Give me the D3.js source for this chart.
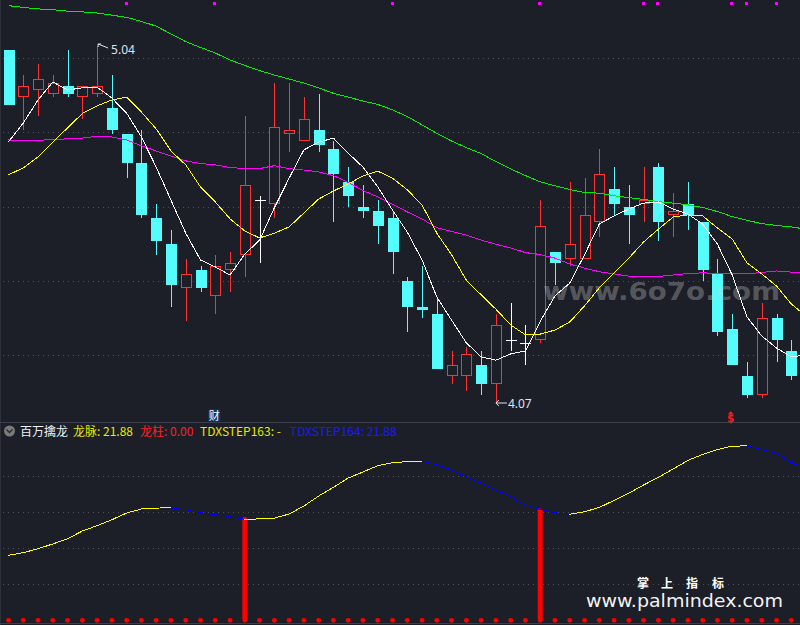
<!DOCTYPE html>
<html><head><meta charset="utf-8">
<script src="https://cdn.jsdelivr.net/npm/d3@7"></script>
<style>
html,body{margin:0;padding:0;background:#1c1f28;overflow:hidden}
svg{display:block}
</style></head><body>
<svg id="c" width="800" height="625"></svg>
<script>
// ---- DATA ----
const open  = [5.03,4.90,4.92,4.91,4.93,4.90,4.91,4.87,4.80,4.72, 4.57,4.50,4.38,4.43,4.36,4.43,4.47,4.62,4.61,4.80, 4.78,4.81,4.76,4.67,4.60,4.59,4.57,4.40,4.33,4.31, 4.14,4.14,4.17,4.12,4.24,4.23,4.24,4.48,4.46,4.46, 4.56,4.65,4.60,4.61,4.71,4.58,4.61,4.56,4.42,4.27, 4.14,4.09,4.30,4.21];
const high  = [5.03,4.96,4.99,4.96,5.03,4.93,5.04,4.96,4.80,4.81, 4.61,4.54,4.46,4.44,4.47,4.48,4.85,4.63,4.94,4.94, 4.90,4.91,4.78,4.71,4.66,4.62,4.59,4.41,4.44,4.35, 4.21,4.22,4.21,4.31,4.34,4.28,4.62,4.48,4.67,4.68, 4.76,4.71,4.66,4.71,4.72,4.64,4.67,4.56,4.46,4.31, 4.18,4.34,4.31,4.24];
const low   = [4.88,4.81,4.85,4.90,4.90,4.84,4.90,4.80,4.68,4.57, 4.47,4.33,4.29,4.37,4.31,4.37,4.41,4.45,4.57,4.75, 4.78,4.75,4.56,4.60,4.57,4.50,4.42,4.26,4.30,4.16, 4.12,4.10,4.09,4.07,4.21,4.17,4.23,4.39,4.44,4.46, 4.52,4.58,4.50,4.56,4.51,4.52,4.54,4.40,4.25,4.17, 4.08,4.08,4.18,4.13];
const close = [4.88,4.93,4.95,4.94,4.91,4.93,4.93,4.81,4.72,4.58, 4.51,4.39,4.42,4.38,4.44,4.45,4.66,4.62,4.82,4.81, 4.84,4.77,4.69,4.63,4.59,4.55,4.48,4.33,4.32,4.16, 4.17,4.20,4.12,4.28,4.24,4.23,4.55,4.45,4.50,4.58, 4.69,4.61,4.58,4.62,4.56,4.59,4.58,4.43,4.26,4.17, 4.09,4.30,4.24,4.14];

const ma5  = [4.779,4.830,4.893,4.942,4.920,4.926,4.928,4.898,4.857,4.792, 4.710,4.620,4.530,4.457,4.438,4.416,4.473,4.511,4.599,4.680, 4.757,4.778,4.789,4.748,4.710,4.656,4.593,4.533,4.457,4.356, 4.293,4.231,4.193,4.184,4.201,4.209,4.290,4.359,4.394,4.471, 4.555,4.577,4.596,4.612,4.615,4.596,4.582,4.555,4.500,4.416, 4.302,4.250,4.217,4.193,4.198];
const ma10 = [4.689,4.708,4.738,4.778,4.817,4.856,4.877,4.893,4.901,4.860, 4.814,4.754,4.716,4.656,4.615,4.569,4.536,4.517,4.530,4.547, 4.585,4.623,4.645,4.664,4.686,4.699,4.680,4.648,4.607,4.530, 4.471,4.402,4.362,4.323,4.280,4.253,4.255,4.266,4.288,4.332, 4.381,4.421,4.462,4.506,4.541,4.574,4.580,4.577,4.544,4.514, 4.449,4.419,4.386,4.337,4.304];
const ma20 = [4.784,4.783,4.783,4.785,4.787,4.789,4.794,4.792,4.784,4.768, 4.754,4.740,4.727,4.720,4.716,4.709,4.706,4.706,4.714,4.706, 4.702,4.697,4.687,4.668,4.646,4.629,4.609,4.588,4.569,4.545, 4.535,4.525,4.511,4.500,4.490,4.477,4.472,4.462,4.446,4.435, 4.425,4.419,4.413,4.412,4.412,4.416,4.420,4.422,4.420,4.419, 4.419,4.423,4.427,4.424,4.421];
const ma60 = [5.150,5.145,5.141,5.139,5.135,5.133,5.130,5.124,5.118,5.107, 5.094,5.073,5.052,5.036,5.021,5.002,4.987,4.973,4.961,4.950, 4.939,4.926,4.911,4.901,4.890,4.881,4.866,4.848,4.825,4.802, 4.781,4.763,4.747,4.725,4.705,4.687,4.670,4.659,4.649,4.641, 4.639,4.632,4.627,4.622,4.616,4.612,4.607,4.600,4.589,4.575, 4.565,4.556,4.551,4.547,4.541];

// 龙脉 (indicator line) and 龙柱 (pillars)
const dragon = [8.99,9.35,9.90,10.56,11.29,12.36,13.10,13.93,14.86,15.42, 15.55,15.57,15.30,14.90,14.63,14.35,13.98,14.04,14.15,14.72, 15.83,17.22,18.43,19.72,20.56,21.43,21.85,22.00,22.03,21.55, 20.83,19.90,18.99,18.06,17.13,15.97,15.38,14.90,14.68,15.04, 15.63,16.61,17.61,18.75,19.82,20.97,22.17,23.00,23.68,24.15, 24.18,23.64,23.15,21.88,20.90];
const pillar = [0,0,0,0,0,0,0,0,0,0, 0,0,0,0,0,0,14.3,0,0,0, 0,0,0,0,0,0,0,0,0,0, 0,0,0,0,0,0,15.5,0,0,0, 0,0,0,0,0,0,0,0,0,0, 0,0,0,0];

const signalIdx = [8,14,26,36,43,44,49,50,52];   // magenta marks at top
const caiIdx = 14;      // 财
const dollarIdx = 49;   // $
const mainGrid = [5.007,4.806,4.601,4.400,4.198];
const subGrid = [5,10,15,20];
const hiMark = {i:6, v:5.04, label:"5.04"};
const loMark = {i:33, v:4.07, label:"4.07"};

// ---- CHART ----
const svg = d3.select('#c');
const BG = '#1c1f28';
svg.append('rect').attr('width',800).attr('height',625).attr('fill',BG);

const x  = d3.scaleLinear().domain([0,53]).range([8.5,791.3]);
const y  = d3.scaleLinear().domain([4.07,5.04]).range([402,46]);
const yI = d3.scaleLinear().domain([0,20]).range([620,476]);

const RED='#ff3232', CYAN='#54fcfc';

// grids
const grid = svg.append('g').attr('stroke','#4a4e58').attr('stroke-dasharray','1,4').attr('shape-rendering','crispEdges');
mainGrid.forEach(p=>{const yy=Math.round(y(p))+0.5; grid.append('line').attr('x1',3).attr('x2',800).attr('y1',yy).attr('y2',yy);});
subGrid.forEach(v=>{const yy=Math.round(yI(v))+0.5; grid.append('line').attr('x1',3).attr('x2',800).attr('y1',yy).attr('y2',yy);});

// left border + separators
svg.append('line').attr('x1',0.5).attr('x2',0.5).attr('y1',0).attr('y2',625).attr('stroke','#2c3039');
svg.append('line').attr('x1',0).attr('x2',800).attr('y1',422.5).attr('y2',422.5).attr('stroke','#3a3f4b');
svg.append('line').attr('x1',0).attr('x2',800).attr('y1',623.5).attr('y2',623.5).attr('stroke','#3a3f4b');

// candles
const cg = svg.append('g').attr('shape-rendering','crispEdges');
close.forEach((c,i)=>{
  const o=open[i], h=high[i], l=low[i];
  const cx=Math.round(x(i));
  const yo=Math.round(y(o)), yc=Math.round(y(c)), yh=Math.round(y(h)), yl=Math.round(y(l));
  const top=Math.min(yo,yc), bot=Math.max(yo,yc);
  if (c>o){
    cg.append('rect').attr('x',cx-4.5).attr('y',top+0.5).attr('width',10).attr('height',Math.max(bot-top-1,1))
      .attr('fill',BG).attr('stroke',RED);
    if (yh<top) cg.append('line').attr('x1',cx+0.5).attr('x2',cx+0.5).attr('y1',yh).attr('y2',top).attr('stroke',RED);
    if (yl>bot) cg.append('line').attr('x1',cx+0.5).attr('x2',cx+0.5).attr('y1',bot).attr('y2',yl).attr('stroke',RED);
  } else if (c<o){
    cg.append('line').attr('x1',cx+0.5).attr('x2',cx+0.5).attr('y1',yh).attr('y2',yl).attr('stroke',CYAN);
    cg.append('rect').attr('x',cx-5).attr('y',top).attr('width',11).attr('height',Math.max(bot-top,1)).attr('fill',CYAN);
  } else {
    cg.append('line').attr('x1',cx+0.5).attr('x2',cx+0.5).attr('y1',yh).attr('y2',yl).attr('stroke','#ffffff');
    cg.append('line').attr('x1',cx-5).attr('x2',cx+6).attr('y1',yo+0.5).attr('y2',yo+0.5).attr('stroke','#ffffff');
  }
});

// moving average lines
const line = d3.line().x((d,i)=>x(i)).y(d=>y(d));
[[ma60,'#00ee00'],[ma20,'#ff00ff'],[ma10,'#ffff00'],[ma5,'#ffffff']].forEach(([arr,col])=>{
  svg.append('path').attr('d',line(arr)).attr('fill','none').attr('stroke',col).attr('stroke-width',1)
    .attr('shape-rendering','crispEdges');
});

// top signal marks
signalIdx.forEach(i=>{
  svg.append('rect').attr('x',Math.round(x(i))-2).attr('y',2).attr('width',3).attr('height',3).attr('fill','#ff00ff');
});

// high / low labels
const labCol='#dfe3ee';
{
  const hx=x(hiMark.i), hy=y(hiMark.v);
  svg.append('path').attr('d',`M${hx+11},${hy+2} L${hx+1},${hy-2} M${hx+1},${hy-2} L${hx+4},${hy-2} M${hx+1},${hy-2} L${hx+1},${hy+1}`)
    .attr('stroke',labCol).attr('fill','none').attr('stroke-width',1);
  svg.append('text').attr('x',hx+14).attr('y',hy+8).text(hiMark.label)
    .attr('fill',labCol).attr('font-family','Noto Sans, DejaVu Sans, sans-serif').attr('font-size',12);
  const lx=x(loMark.i), ly=y(loMark.v)+1;
  svg.append('path').attr('d',`M${lx+11},${ly} L${lx},${ly} M${lx},${ly} L${lx+3},${ly-3} M${lx},${ly} L${lx+3},${ly+3}`)
    .attr('stroke',labCol).attr('fill','none').attr('stroke-width',1);
  svg.append('text').attr('x',lx+12).attr('y',ly+4.5).text(loMark.label)
    .attr('fill',labCol).attr('font-family','Noto Sans, DejaVu Sans, sans-serif').attr('font-size',12);
}

// 财 marker
{
  const cx=x(caiIdx)-1;
  svg.append('rect').attr('x',cx-6).attr('y',409.5).attr('width',12).attr('height',12).attr('fill','#0b3a68');
  svg.append('text').attr('x',cx).attr('y',420).attr('text-anchor','middle').text('财')
    .attr('fill','#ffffff').attr('font-family','Noto Sans CJK SC').attr('font-size',11);
}
// $ marker
{
  const cx=x(dollarIdx)-1.5;
  svg.append('path').attr('d',`M${cx-3},${414.5} L${cx},${411} L${cx+3},${414.5} Z`).attr('fill','#ff1a1a');
  svg.append('text').attr('x',cx).attr('y',422).attr('text-anchor','middle').text('$')
    .attr('fill','#ff1a1a').attr('font-family','DejaVu Sans').attr('font-weight','bold').attr('font-size',10.5);
}

// ---- SUB PANEL ----
const pg = svg.append('g');
pillar.forEach((v,i)=>{
  const cx=x(i);
  pg.append('circle').attr('cx',cx).attr('cy',620.3).attr('r',2.4).attr('fill','#ff0000');
  if (v>0) pg.append('rect').attr('x',cx-2.5).attr('y',yI(v)).attr('width',5).attr('height',620.3-yI(v)).attr('rx',2).attr('fill','#ff0000');
});
const dg = svg.append('g').attr('shape-rendering','crispEdges');
for (let i=1;i<dragon.length;i++){
  const up = dragon[i]>=dragon[i-1];
  dg.append('line').attr('x1',x(i-1)).attr('y1',yI(dragon[i-1])).attr('x2',x(i)).attr('y2',yI(dragon[i]))
    .attr('stroke', up ? '#ffff00' : '#0000ff').attr('stroke-width',1).attr('stroke-linecap','square');
}

// legend
const last = close.length-1;
const lastUp = dragon[last]>=dragon[last-1];
const lg = svg.append('g').attr('font-family','Noto Sans CJK SC, Noto Sans, sans-serif').attr('font-size',12);
const circ = svg.append('g');
circ.append('circle').attr('cx',9.5).attr('cy',431).attr('r',5.5).attr('fill','#7a7a7a');
circ.append('path').attr('d','M6.5,429.5 L9.5,432.5 L12.5,429.5').attr('stroke','#2a2a2a').attr('stroke-width',1.4).attr('fill','none');
lg.append('text').attr('x',20).attr('y',436).attr('fill','#f0f0f0').text('百万擒龙');
lg.append('text').attr('x',73).attr('y',436).attr('fill','#e8e800').text('龙脉: '+dragon[last].toFixed(2));
lg.append('text').attr('x',140).attr('y',436).attr('fill','#ff2020').text('龙柱: '+pillar[last].toFixed(2));
lg.append('text').attr('x',200).attr('y',436).attr('fill','#e8e800').text('TDXSTEP163: '+(lastUp?dragon[last].toFixed(2):'-'));
lg.append('text').attr('x',290).attr('y',436).attr('fill','#1a1aff').text('TDXSTEP164: '+(lastUp?'-':dragon[last].toFixed(2)));

// ---- WATERMARKS ----
svg.append('text').attr('x',543).attr('y',300).text('www.6o7o.com')
  .attr('font-family','DejaVu Sans').attr('font-weight','bold').attr('font-size',24)
  .attr('textLength',237).attr('lengthAdjust','spacingAndGlyphs')
  .attr('fill','#d0d0d0').attr('fill-opacity',0.33);
const wm = svg.append('g').attr('fill','#ffffff').attr('font-weight','bold').attr('font-family','Noto Sans CJK SC').attr('font-size',12);
['掌','上','指','标'].forEach((ch,k)=>{
  wm.append('text').attr('x',[637,661,686,712][k]).attr('y',587.5).text(ch);
});
svg.append('text').attr('x',586).attr('y',606.5).text('www.palmindex.com')
  .attr('font-family','DejaVu Sans').attr('font-size',17.5)
  .attr('textLength',197).attr('lengthAdjust','spacingAndGlyphs').attr('fill','#f4f4f4');
</script>
</body></html>
